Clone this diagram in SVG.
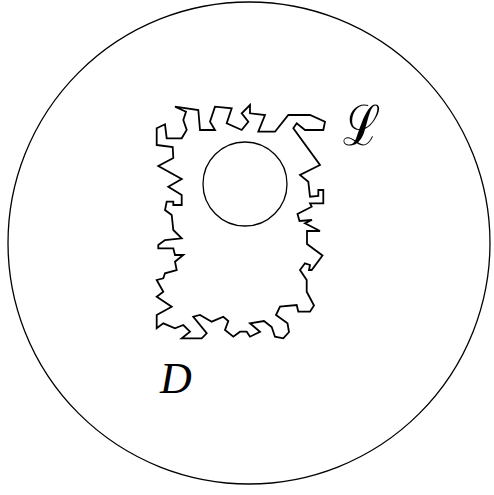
<svg xmlns="http://www.w3.org/2000/svg" width="494" height="495" viewBox="0 0 494 495">
<style>
.ln{fill:none;stroke:#000;stroke-width:1.3}
.jag{fill:none;stroke:#000;stroke-width:1.8;stroke-linejoin:miter}
.lbl{font-family:"Liberation Serif","DejaVu Serif",serif;font-style:italic;fill:#000}
.scr{font-family:"DejaVu Serif",serif;fill:#000}
</style>
<rect width="494" height="495" fill="#fff"/>
<g id="outer"><circle class="ln" cx="249" cy="243" r="241"/></g>
<g id="hole"><circle class="ln" cx="245" cy="184" r="42"/></g>
<g id="loop">
<path class="jag" d="M156.7,145 L172.7,147 L173.3,158 L158.3,166 L181.7,179 L168.3,186.7 L181.7,195 L181.7,205 L173.3,205 L173.3,201.7 L166.7,201.7 L165,210 L171.7,215 L173.3,230 L181.7,238.3 L165,240 L158.3,245 L158.3,248.3 L173.3,248.3 L175,255 L183.3,255 L175,261.7 L176.7,270 L165,273.3 L163.3,278.3 L156.7,280 L163.3,291.7 L156.7,296.7 L171.7,306.7 L156.7,315 L156.7,328.3 L163.3,323.3 L175,328.3 L183.3,325 L190,331.7 L181.7,338.3 L201.7,338.3 L206.7,333.3 L193.3,316.7 L200,315 L211.7,321.7 L223.3,316.7 L228.3,321 L225,330 L233.3,336.7 L240,331.7 L246.7,331.7 L250,336.7 L260,331.7 L250,323.3 L264,321 L271.7,327 L275,336.7 L283.3,338.3 L289,332 L287.5,323.3 L276,315 L280,306.7 L296.7,305 L298.3,311.7 L310,311.7 L314,305.5 L306.7,291.7 L306.7,280 L300,270 L305,263.3 L310,265 L309,270 L311.7,270 L322.5,255.5 L307,244 L307,231 L320,231 L305,223.3 L312,220 L299.5,221 L297.5,214 L311.7,206.7 L310,203.3 L323.3,203.3 L323.3,190 L318.3,190 L318.3,196 L310,196.7 L308.3,181.7 L300,175 L320,165 L293.3,128.3 L296.7,123.3 L305,130 L323.3,130 L325,121.7 L310,115 L288.3,115 L275,131.7 L258.3,131.7 L265,115 L250,113.3 L250,105 L241.7,113.3 L248.3,121.7 L241.7,130 L226.7,123.3 L231.7,108.3 L215,106.7 L210,121.7 L215,130 L200,130 L198.3,110 L175,106.7 L186,111.7 L183.3,120 L186.7,130 L181.7,138.3 L166.7,138.3 L165,124.3 L156.7,128.3 Z"/>
</g>
<g id="labels">
<text class="scr" transform="translate(343,145) scale(0.8,1)" font-size="56">ℒ</text>
<text class="lbl" x="160" y="393" font-size="44">D</text>
</g>
</svg>
